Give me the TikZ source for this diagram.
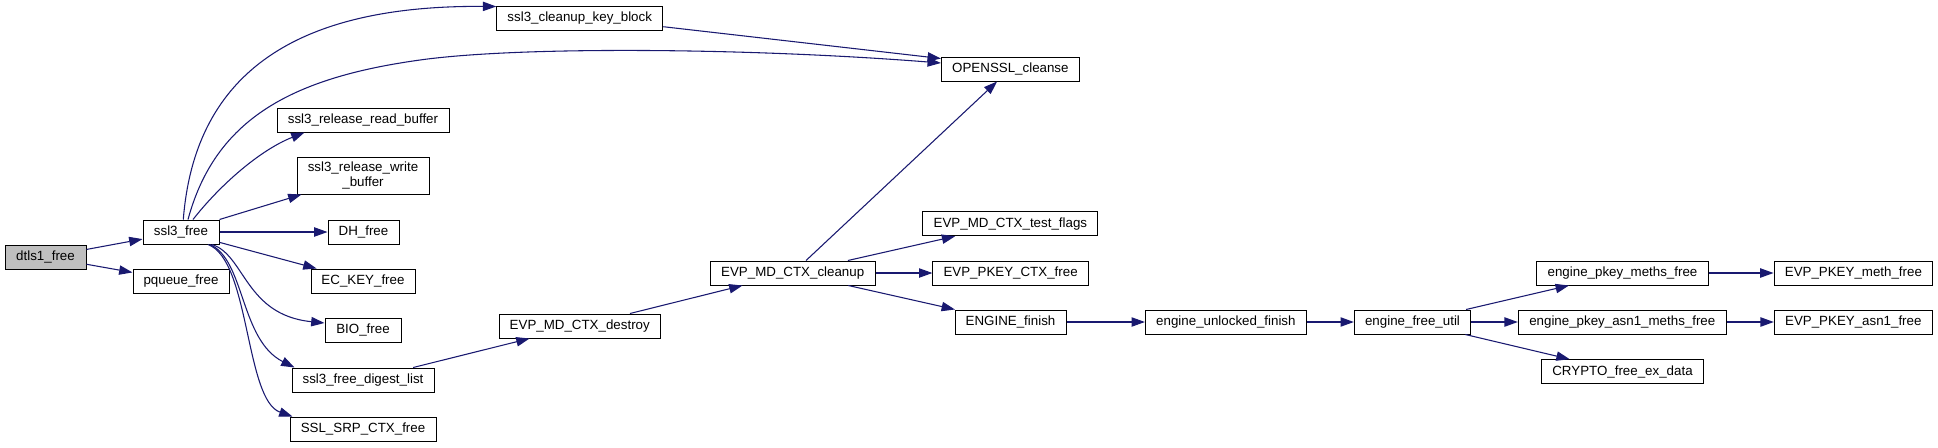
\documentclass[tikz,border=0pt]{standalone}
\usepackage{fontspec}
\setmainfont{Liberation Sans}
\usetikzlibrary{arrows.meta,calc}
\definecolor{edgecol}{RGB}{25,25,112}
\definecolor{rootfill}{RGB}{191,191,191}
\begin{document}
\begin{tikzpicture}[x=0.75pt,y=-0.75pt,
 fn/.style={draw=black, line width=0.75pt, inner sep=0pt, minimum height=18pt, font=\fontsize{10}{11.5}\selectfont, anchor=center},
 wd/.style={minimum width=#1*0.75pt},
 call/.style={draw=edgecol, line width=0.8pt, -{Triangle[length=10pt,width=7pt]}},
]
\useasboundingbox (0,0) rectangle (1938,447);
\node[fn,wd=81,fill=rootfill] (dtls) at (45.5,257) {dtls1\_free};
\node[fn,wd=76] (ssl3free) at (181,232) {ssl3\_free};
\node[fn,wd=96] (pqueue) at (181,281) {pqueue\_free};
\node[fn,wd=172] (readbuf) at (363,120) {ssl3\_release\_read\_buffer};
\node[fn,wd=132,minimum height=27.75pt,align=center] (writebuf) at (363,175.5) {ssl3\_release\_write\\\_buffer};
\node[fn,wd=71] (dh) at (363.5,232) {DH\_free};
\node[fn,wd=104] (eckey) at (363,281) {EC\_KEY\_free};
\node[fn,wd=76] (bio) at (363,330) {BIO\_free};
\node[fn,wd=142] (digest) at (363,380) {ssl3\_free\_digest\_list};
\node[fn,wd=146] (srp) at (363,429) {SSL\_SRP\_CTX\_free};
\node[fn,wd=166] (keyblock) at (579.75,18) {ssl3\_cleanup\_key\_block};
\node[fn,wd=161.5] (destroy) at (579.75,326) {EVP\_MD\_CTX\_destroy};
\node[fn,wd=165] (cleanup) at (792.7,273) {EVP\_MD\_CTX\_cleanup};
\node[fn,wd=138] (cleanse) at (1010.4,69) {OPENSSL\_cleanse};
\node[fn,wd=175] (testflags) at (1010.4,223.7) {EVP\_MD\_CTX\_test\_flags};
\node[fn,wd=155.4] (pkeyctx) at (1010.6,273) {EVP\_PKEY\_CTX\_free};
\node[fn,wd=111] (efinish) at (1010.5,322) {ENGINE\_finish};
\node[fn,wd=161] (unlocked) at (1225.9,322) {engine\_unlocked\_finish};
\node[fn,wd=116.3] (freeutil) at (1412.5,322) {engine\_free\_util};
\node[fn,wd=171.6] (pkeymeths) at (1622.5,273) {engine\_pkey\_meths\_free};
\node[fn,wd=208] (asn1meths) at (1622.3,322) {engine\_pkey\_asn1\_meths\_free};
\node[fn,wd=161.6] (cryptofree) at (1622.5,371.7) {CRYPTO\_free\_ex\_data};
\node[fn,wd=158.7] (methfree) at (1853.4,273) {EVP\_PKEY\_meth\_free};
\node[fn,wd=158] (asn1free) at (1853.3,322) {EVP\_PKEY\_asn1\_free};

\draw[call] (dtls) -- (ssl3free);
\draw[call] (dtls) -- (pqueue);
\draw[call] ($(ssl3free.north)+(2.3,0)$) .. controls (195,70) and (300,5) .. ($(keyblock.north west)+(0,1)$);
\draw[call] ($(ssl3free.north)+(7,0)$) .. controls (215,120) and (290,78) .. (420,60) .. controls (520,46) and (750,48) .. ($(cleanse.west)+(0,-6)$);
\draw[call] ($(ssl3free.north)+(12,0)$) .. controls (220,185) and (260,150) .. ($(readbuf.south west)+(28,0)$);
\draw[call] (ssl3free.north east) -- ($(writebuf.south west)+(5,0)$);
\draw[call] (ssl3free) -- (dh);
\draw[call] (ssl3free) -- (eckey);
\draw[call] ($(ssl3free.south)+(31,0)$) .. controls (245,255) and (245,315) .. ($(bio.west)+(0,-7)$);
\draw[call] ($(ssl3free.south)+(29,0)$) .. controls (245,260) and (240,340) .. ($(digest.north west)+(3,0)$);
\draw[call] ($(ssl3free.south)+(27,0)$) .. controls (250,260) and (245,400) .. ($(srp.north west)+(3,0)$);
\draw[call] ($(keyblock.east)+(0,8.7)$) -- ($(cleanse.west)+(0,-10.5)$);
\draw[call] (digest) -- (destroy);
\draw[call] (destroy) -- (cleanup);
\draw[call] (cleanup) -- (cleanse);
\draw[call] (cleanup) -- (testflags);
\draw[call] (cleanup) -- (pkeyctx);
\draw[call] (cleanup) -- (efinish);
\draw[call] (efinish) -- (unlocked);
\draw[call] (unlocked) -- (freeutil);
\draw[call] (freeutil) -- (pkeymeths);
\draw[call] (freeutil) -- (asn1meths);
\draw[call] (freeutil) -- (cryptofree);
\draw[call] (pkeymeths) -- (methfree);
\draw[call] (asn1meths) -- (asn1free);
\end{tikzpicture}
\end{document}
